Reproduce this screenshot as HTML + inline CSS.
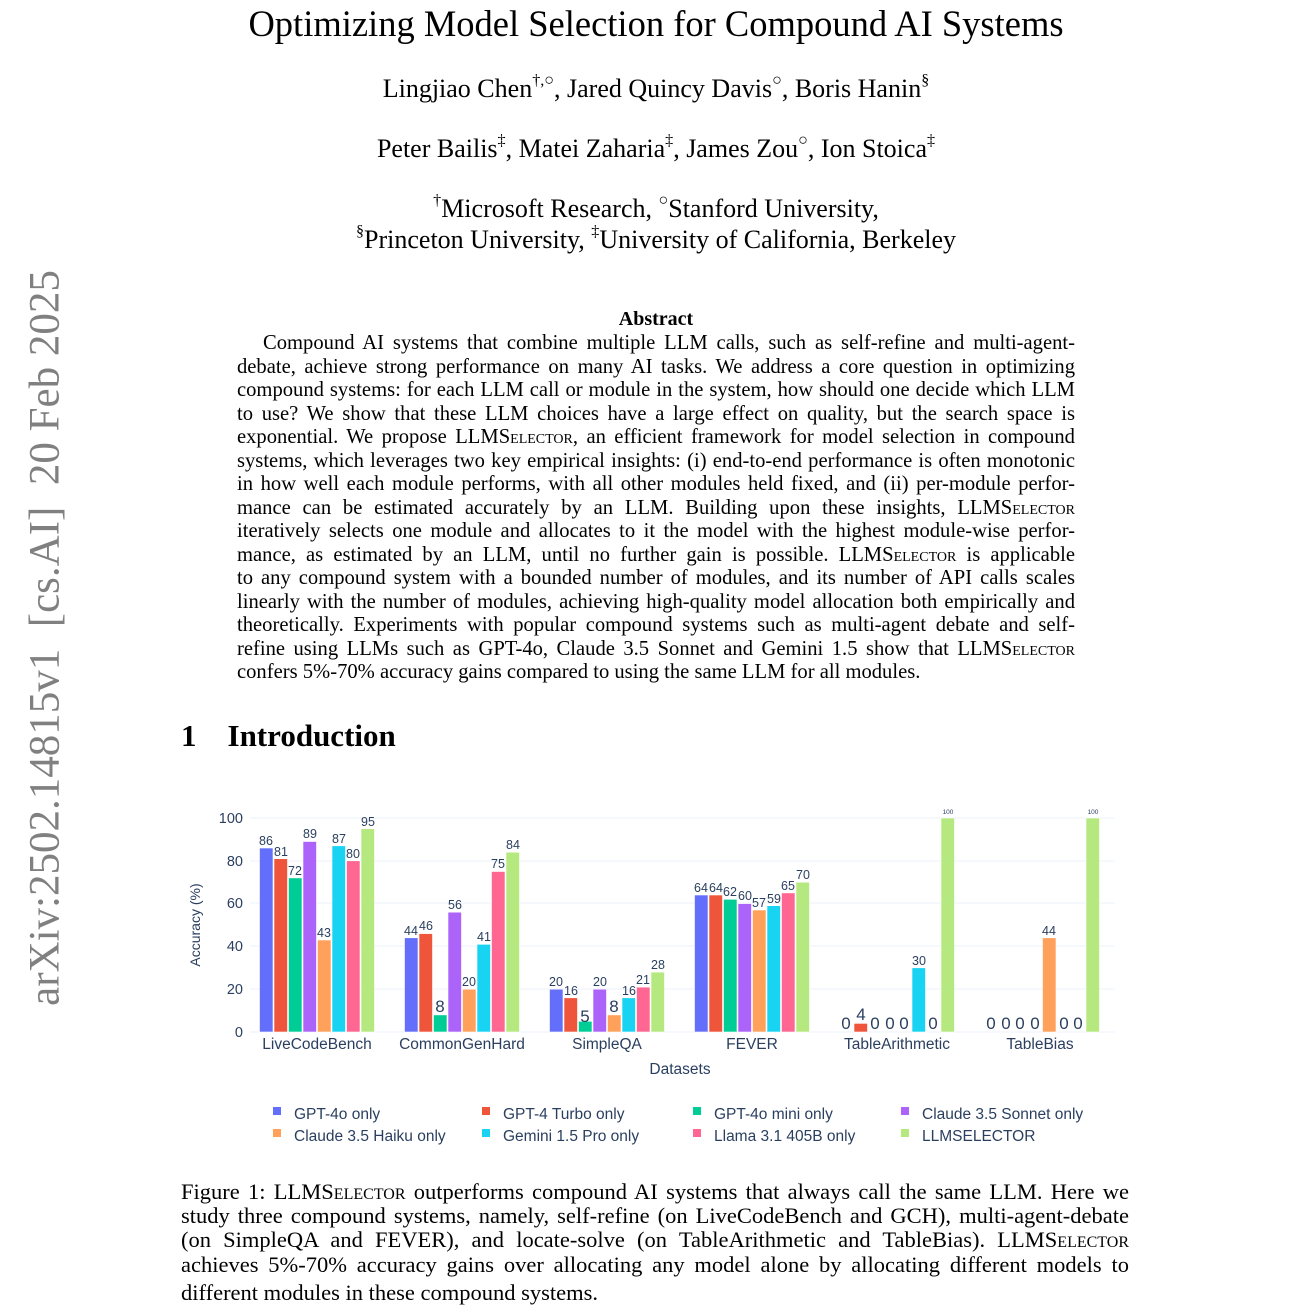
<!DOCTYPE html>
<html><head><meta charset="utf-8">
<style>
body{margin:0;background:#fff;width:1312px;height:1312px;position:relative;overflow:hidden;font-family:"Liberation Serif",serif;color:#000}
.c{position:absolute;left:0;width:1312px;text-align:center;white-space:nowrap}
.l{position:absolute;white-space:nowrap;text-align:justify;text-align-last:justify;font-size:20.6px;line-height:22px}
.ab .l{left:237px;width:838px}
.cap .l{left:181px;width:948px;font-size:22.5px;line-height:24px}
sup{font-size:62%;vertical-align:top;position:relative;top:-2px}
.sc{font-variant:small-caps}
</style></head><body>
<div style="position:absolute;left:45px;top:638px;transform:translate(-50%,-50%) rotate(-90deg);white-space:nowrap;font-size:43px;color:#808080;">arXiv:2502.14815v1&nbsp; [cs.AI]&nbsp; 20 Feb 2025</div>

<div class="c" style="top:2px;font-size:36.5px;">Optimizing Model Selection for Compound AI Systems</div>
<div class="c" style="top:74px;font-size:26px;">Lingjiao Chen<sup>†,○</sup>, Jared Quincy Davis<sup>○</sup>, Boris Hanin<sup>§</sup></div>
<div class="c" style="top:134px;font-size:26px;">Peter Bailis<sup>‡</sup>, Matei Zaharia<sup>‡</sup>, James Zou<sup>○</sup>, Ion Stoica<sup>‡</sup></div>
<div class="c" style="top:194px;font-size:26px;"><sup>†</sup>Microsoft Research, <sup>○</sup>Stanford University,</div>
<div class="c" style="top:225px;font-size:26px;"><sup>§</sup>Princeton University, <sup>‡</sup>University of California, Berkeley</div>

<div class="c" style="top:308px;font-size:20px;font-weight:bold;">Abstract</div>
<div class="ab">
<div class="l" style="top:332px;padding-left:26px;width:812px">Compound AI systems that combine multiple LLM calls, such as self-refine and multi-agent-</div>
<div class="l" style="top:356px">debate, achieve strong performance on many AI tasks. We address a core question in optimizing</div>
<div class="l" style="top:379px">compound systems: for each LLM call or module in the system, how should one decide which LLM</div>
<div class="l" style="top:403px">to use? We show that these LLM choices have a large effect on quality, but the search space is</div>
<div class="l" style="top:426px">exponential. We propose LLM<span class="sc">Selector</span>, an efficient framework for model selection in compound</div>
<div class="l" style="top:450px">systems, which leverages two key empirical insights: (i) end-to-end performance is often monotonic</div>
<div class="l" style="top:473px">in how well each module performs, with all other modules held fixed, and (ii) per-module perfor-</div>
<div class="l" style="top:497px">mance can be estimated accurately by an LLM. Building upon these insights, LLM<span class="sc">Selector</span></div>
<div class="l" style="top:520px">iteratively selects one module and allocates to it the model with the highest module-wise perfor-</div>
<div class="l" style="top:544px">mance, as estimated by an LLM, until no further gain is possible. LLM<span class="sc">Selector</span> is applicable</div>
<div class="l" style="top:567px">to any compound system with a bounded number of modules, and its number of API calls scales</div>
<div class="l" style="top:591px">linearly with the number of modules, achieving high-quality model allocation both empirically and</div>
<div class="l" style="top:614px">theoretically. Experiments with popular compound systems such as multi-agent debate and self-</div>
<div class="l" style="top:638px">refine using LLMs such as GPT-4o, Claude 3.5 Sonnet and Gemini 1.5 show that LLM<span class="sc">Selector</span></div>
<div class="l" style="top:661px;text-align-last:left">confers 5%-70% accuracy gains compared to using the same LLM for all modules.</div>
</div>

<div style="position:absolute;left:181px;top:718px;font-size:31px;font-weight:bold;white-space:nowrap">1&nbsp;&nbsp;&nbsp;&nbsp;Introduction</div>

<svg style="position:absolute;left:0;top:0" width="1312" height="1312" font-family="Liberation Sans, sans-serif">
<g stroke="#ebf0f8" stroke-width="1">
<line x1="250" x2="1115" y1="818" y2="818"/><line x1="250" x2="1115" y1="861" y2="861"/><line x1="250" x2="1115" y1="903" y2="903"/><line x1="250" x2="1115" y1="946" y2="946"/><line x1="250" x2="1115" y1="989" y2="989"/><line x1="250" x2="1115" y1="1032" y2="1032"/>
</g>
<g fill="#2a3f5f" font-size="14.5" text-anchor="end">
<text x="243" y="823">100</text><text x="243" y="866">80</text><text x="243" y="908">60</text><text x="243" y="951">40</text><text x="243" y="994">20</text><text x="243" y="1037">0</text>
</g>
<text transform="translate(200,925) rotate(-90)" fill="#2a3f5f" font-size="14" text-anchor="middle">Accuracy (%)</text>
<g fill="#2a3f5f" font-size="15.5" text-anchor="middle">
<text x="317" y="1049">LiveCodeBench</text><text x="462" y="1049">CommonGenHard</text><text x="607" y="1049">SimpleQA</text><text x="752" y="1049">FEVER</text><text x="897" y="1049">TableArithmetic</text><text x="1040" y="1049">TableBias</text>
<text x="680" y="1074">Datasets</text>
</g>
<g transform="translate(0,1032) scale(1,-1)" stroke="#fff" stroke-width="0.6">
<rect x="259.5" width="13.5" height="184" fill="#636efa"/><rect x="274" width="13.5" height="173.3" fill="#EF553B"/><rect x="288.5" width="13.5" height="154.1" fill="#00cc96"/><rect x="303" width="13.5" height="190.5" fill="#ab63fa"/><rect x="317.5" width="13.5" height="92" fill="#FFA15A"/><rect x="332" width="13.5" height="186.2" fill="#19d3f3"/><rect x="346.5" width="13.5" height="171.2" fill="#FF6692"/><rect x="361" width="13.5" height="203.3" fill="#B6E880"/>
<rect x="404.5" width="13.5" height="94.2" fill="#636efa"/><rect x="419" width="13.5" height="98.4" fill="#EF553B"/><rect x="433.5" width="13.5" height="17.1" fill="#00cc96"/><rect x="448" width="13.5" height="119.8" fill="#ab63fa"/><rect x="462.5" width="13.5" height="42.8" fill="#FFA15A"/><rect x="477" width="13.5" height="87.7" fill="#19d3f3"/><rect x="491.5" width="13.5" height="160.5" fill="#FF6692"/><rect x="506" width="13.5" height="179.8" fill="#B6E880"/>
<rect x="549.5" width="13.5" height="42.8" fill="#636efa"/><rect x="564" width="13.5" height="34.2" fill="#EF553B"/><rect x="578.5" width="13.5" height="10.7" fill="#00cc96"/><rect x="593" width="13.5" height="42.8" fill="#ab63fa"/><rect x="607.5" width="13.5" height="17.1" fill="#FFA15A"/><rect x="622" width="13.5" height="34.2" fill="#19d3f3"/><rect x="636.5" width="13.5" height="44.9" fill="#FF6692"/><rect x="651" width="13.5" height="59.9" fill="#B6E880"/>
<rect x="694.5" width="13.5" height="137" fill="#636efa"/><rect x="709" width="13.5" height="137" fill="#EF553B"/><rect x="723.5" width="13.5" height="132.7" fill="#00cc96"/><rect x="738" width="13.5" height="128.4" fill="#ab63fa"/><rect x="752.5" width="13.5" height="122" fill="#FFA15A"/><rect x="767" width="13.5" height="126.3" fill="#19d3f3"/><rect x="781.5" width="13.5" height="139.1" fill="#FF6692"/><rect x="796" width="13.5" height="149.8" fill="#B6E880"/>
<rect x="854" width="13.5" height="8.6" fill="#EF553B"/><rect x="912" width="13.5" height="64.2" fill="#19d3f3"/><rect x="941" width="13.5" height="214" fill="#B6E880"/>
<rect x="1042.5" width="13.5" height="94.2" fill="#FFA15A"/><rect x="1086" width="13.5" height="214" fill="#B6E880"/>
</g>
<g fill="#2a3f5f" font-size="12.5" text-anchor="middle">
<text x="266" y="845">86</text><text x="281" y="856">81</text><text x="295" y="875">72</text><text x="310" y="838">89</text><text x="324" y="937">43</text><text x="339" y="843">87</text><text x="353" y="858">80</text><text x="368" y="826">95</text>
<text x="411" y="935">44</text><text x="426" y="930">46</text><text x="455" y="909">56</text><text x="469" y="986">20</text><text x="484" y="941">41</text><text x="498" y="868">75</text><text x="513" y="849">84</text>
<text x="556" y="986">20</text><text x="571" y="995">16</text><text x="600" y="986">20</text><text x="629" y="995">16</text><text x="643" y="984">21</text><text x="658" y="969">28</text>
<text x="701" y="892">64</text><text x="716" y="892">64</text><text x="730" y="896">62</text><text x="745" y="900">60</text><text x="759" y="907">57</text><text x="774" y="903">59</text><text x="788" y="890">65</text><text x="803" y="879">70</text>
<text x="919" y="965">30</text><text x="1049" y="935">44</text>
</g>
<g fill="#2a3f5f" font-size="6.5" text-anchor="middle"><text x="948" y="814">100</text><text x="1093" y="814">100</text></g>
<g fill="#2a3f5f" font-size="17" text-anchor="middle">
<text x="440" y="1012">8</text><text x="585" y="1022">5</text><text x="614" y="1012">8</text><text x="861" y="1020">4</text>
<text x="846" y="1029">0</text><text x="875" y="1029">0</text><text x="890" y="1029">0</text><text x="904" y="1029">0</text><text x="933" y="1029">0</text>
<text x="991" y="1029">0</text><text x="1006" y="1029">0</text><text x="1020" y="1029">0</text><text x="1035" y="1029">0</text><text x="1064" y="1029">0</text><text x="1078" y="1029">0</text>
</g>
<g font-size="15.5" fill="#2a3f5f">
<rect x="273" y="1107" width="8" height="8" fill="#636efa"/><text x="294" y="1119">GPT-4o only</text>
<rect x="482" y="1107" width="8" height="8" fill="#EF553B"/><text x="503" y="1119">GPT-4 Turbo only</text>
<rect x="693" y="1107" width="8" height="8" fill="#00cc96"/><text x="714" y="1119">GPT-4o mini only</text>
<rect x="901" y="1107" width="8" height="8" fill="#ab63fa"/><text x="922" y="1119">Claude 3.5 Sonnet only</text>
<rect x="273" y="1129" width="8" height="8" fill="#FFA15A"/><text x="294" y="1141">Claude 3.5 Haiku only</text>
<rect x="482" y="1129" width="8" height="8" fill="#19d3f3"/><text x="503" y="1141">Gemini 1.5 Pro only</text>
<rect x="693" y="1129" width="8" height="8" fill="#FF6692"/><text x="714" y="1141">Llama 3.1 405B only</text>
<rect x="901" y="1129" width="8" height="8" fill="#B6E880"/><text x="922" y="1141">LLMSELECTOR</text>
</g>
</svg>

<div class="cap">
<div class="l" style="top:1180px">Figure 1: LLM<span class="sc">Selector</span> outperforms compound AI systems that always call the same LLM. Here we</div>
<div class="l" style="top:1204px">study three compound systems, namely, self-refine (on LiveCodeBench and GCH), multi-agent-debate</div>
<div class="l" style="top:1228px">(on SimpleQA and FEVER), and locate-solve (on TableArithmetic and TableBias). LLM<span class="sc">Selector</span></div>
<div class="l" style="top:1253px">achieves 5%-70% accuracy gains over allocating any model alone by allocating different models to</div>
<div class="l" style="top:1281px;text-align-last:left">different modules in these compound systems.</div>
</div>
</body></html>
